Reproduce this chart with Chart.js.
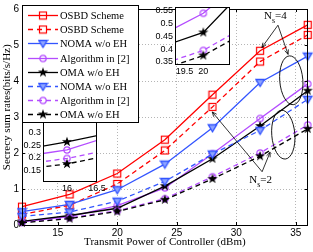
<!DOCTYPE html>
<html><head><meta charset="utf-8">
<script src="https://cdn.jsdelivr.net/npm/chart.js@4.4.0/dist/chart.umd.min.js"></script>
<style>
html,body{margin:0;padding:0;background:#fff;}
#wrap{position:relative;width:313px;height:252px;overflow:hidden;}
canvas{position:absolute;}
</style></head><body>
<div id="wrap">
<canvas id="main" width="313" height="252" style="left:0;top:0"></canvas>
<canvas id="in1" width="90" height="80" style="left:145px;top:0"></canvas>
<canvas id="in2" width="95" height="82" style="left:15px;top:112px"></canvas>
<canvas id="leg" width="313" height="252" style="left:0;top:0;pointer-events:none"></canvas>
</div>
<script>
// ---- data ----
const power = [12, 16, 20, 24, 28, 32, 36];
const osbdSolid  = [0.51, 0.85, 1.43, 2.37, 3.62, 4.84, 5.56];
const osbdDash   = [0.29, 0.55, 1.14, 2.07, 3.28, 4.54, 5.28];
const nomaSolid  = [0.37, 0.57, 0.98, 1.69, 2.70, 3.96, 4.69];
const algSolid   = [0.09, 0.232, 0.54, 1.03, 1.98, 2.96, 3.92];
const omaSolid   = [0.10, 0.264, 0.465, 1.08, 1.84, 2.75, 3.73];
const nomaDash   = [0.24, 0.36, 0.66, 1.21, 1.97, 2.63, 3.49];
const algDash    = [0.07, 0.198, 0.395, 0.73, 1.34, 2.00, 2.78];
const omaDash    = [0.06, 0.176, 0.375, 0.70, 1.28, 1.91, 2.67];
const seriesNames = ['OSBD Scheme','OSBD Scheme','NOMA w/o EH','Algorithm in [2]','OMA w/o EH','NOMA w/o EH','Algorithm in [2]','OMA w/o EH'];
const xTicks = [15, 20, 25, 30, 35];
const yTicks = [0, 1, 2, 3, 4, 5, 6];
const inset1XTicks = [19.5, 20];
const inset1YTicks = [0.35, 0.4, 0.45, 0.5, 0.55];
const inset2XTicks = [16, 16.5];
const inset2YTicks = [0.15, 0.2, 0.25, 0.3];
const yTitle = 'Secrecy sum rates(bits/s/Hz)';
const xTitle = 'Transmit Power of Controller (dBm)';

// ---- markers ----
function mk(size, draw){const c=document.createElement('canvas');c.width=c.height=size;const g=c.getContext('2d');draw(g,size/2);return c;}
const RED='#ff0000', BLUE='#3355ff', PURPLE='#b44cff', BLACK='#000000';
const mSquare = mk(10,(g,c)=>{g.strokeStyle=RED;g.lineWidth=1.2;g.strokeRect(c-3.5,c-3.5,7,7);});
const mTri = mk(11,(g,c)=>{g.beginPath();g.moveTo(c-4.2,c-3);g.lineTo(c+4.2,c-3);g.lineTo(c,c+4);g.closePath();g.fillStyle='#8ea4ff';g.fill();g.strokeStyle=BLUE;g.lineWidth=1.4;g.stroke();});
const mCirc = mk(10,(g,c)=>{g.beginPath();g.arc(c,c,3.2,0,Math.PI*2);g.strokeStyle=PURPLE;g.lineWidth=1.2;g.stroke();});
const mStar = mk(12,(g,c)=>{g.beginPath();for(let i=0;i<10;i++){const r=i%2?2.1:5.3;const a=-Math.PI/2+i*Math.PI/5;g.lineTo(c+r*Math.cos(a),c+r*Math.sin(a));}g.closePath();g.fillStyle=BLACK;g.fill();});

const DASH=[5,3.5];
const styles = [
  {color:RED, dash:[], marker:mSquare},
  {color:RED, dash:DASH, marker:mSquare},
  {color:BLUE, dash:[], marker:mTri},
  {color:PURPLE, dash:[], marker:mCirc},
  {color:BLACK, dash:[], marker:mStar},
  {color:BLUE, dash:DASH, marker:mTri},
  {color:PURPLE, dash:DASH, marker:mCirc},
  {color:BLACK, dash:DASH, marker:mStar}
];
const seriesData = [osbdSolid, osbdDash, nomaSolid, algSolid, omaSolid, nomaDash, algDash, omaDash];

function makeDatasets(idx, clip){
  return idx.map(i=>({
    label: seriesNames[i],
    data: power.map((p,k)=>({x:p, y:seriesData[i][k]})),
    borderColor: styles[i].color,
    backgroundColor: styles[i].color,
    borderWidth: 1.3,
    borderDash: styles[i].dash,
    pointStyle: styles[i].marker,
    pointRadius: 4,
    tension: 0,
    clip: clip
  }));
}

const tickFont = {family:"'Liberation Sans', Arial, sans-serif", size:10};
const smallTickFont = {family:"'Liberation Sans', Arial, sans-serif", size:9};
const titleFont = {family:"'Liberation Serif', 'Times New Roman', serif", size:11};

// annotation geometry in data units
const ellipses = [ {x:34.62, y:4.02, rx:0.97, ry:0.68}, {x:33.95, y:2.51, rx:0.97, ry:0.68} ];
const label4 = {x:33.34, y:5.80, n:'4'};
const label2 = {x:32.10, y:1.26, n:'2'};
const arrows4 = {from:{x:33.5,y:5.55}, to:[{x:32.15,y:4.93},{x:34.35,y:4.74}]};
const arrows2 = {from:{x:32.17,y:1.48}, to:[{x:27.98,y:3.14},{x:32.84,y:2.02}]};

function arrow(ctx, x1,y1,x2,y2){
  ctx.beginPath();ctx.moveTo(x1,y1);ctx.lineTo(x2,y2);ctx.stroke();
  const a=Math.atan2(y2-y1,x2-x1), L=5, w=0.4;
  ctx.beginPath();ctx.moveTo(x2,y2);ctx.lineTo(x2-L*Math.cos(a-w),y2-L*Math.sin(a-w));
  ctx.moveTo(x2,y2);ctx.lineTo(x2-L*Math.cos(a+w),y2-L*Math.sin(a+w));ctx.stroke();
}
function nsLabel(ctx, px, py, n){
  ctx.fillStyle='#000';ctx.textBaseline='middle';ctx.textAlign='left';
  ctx.font="11px 'Liberation Serif', serif";
  const wN=ctx.measureText('N').width;
  const x0=px-12;
  ctx.fillText('N',x0,py);
  ctx.font="8px 'Liberation Serif', serif";
  ctx.fillText('s',x0+wN,py+5);
  ctx.font="11px 'Liberation Serif', serif";
  ctx.fillText('='+n,x0+wN+3,py);
}

const mainPlugin = {
  id:'mainDecor',
  beforeDraw(ch){const c=ch.ctx;c.save();c.fillStyle='#fff';c.fillRect(0,0,ch.width,ch.height);c.restore();},
  afterDraw(ch){
    const c=ch.ctx, a=ch.chartArea;
    c.save();
    c.translate(7, a.top+(a.bottom-a.top)*0.455);
    c.rotate(-Math.PI/2);
    c.fillStyle='#000';c.font="11px 'Liberation Serif', 'Times New Roman', serif";
    c.textAlign='center';c.textBaseline='middle';
    c.fillText(yTitle,0,0);
    c.restore();
  },
  afterDatasetsDraw(ch){
    const c=ch.ctx, a=ch.chartArea, xs=ch.scales.x, ys=ch.scales.y;
    c.save();
    c.strokeStyle='#000';c.lineWidth=1;c.setLineDash([]);
    c.strokeRect(Math.round(a.left)+0.5,Math.round(a.top)+0.5,Math.round(a.right-a.left)-1,Math.round(a.bottom-a.top));
    xTicks.forEach(v=>{const p=Math.round(xs.getPixelForValue(v))+0.5;c.beginPath();c.moveTo(p,a.bottom);c.lineTo(p,a.bottom-3);c.moveTo(p,a.top);c.lineTo(p,a.top+3);c.stroke();});
    yTicks.forEach(v=>{const p=Math.round(ys.getPixelForValue(v))+0.5;c.beginPath();c.moveTo(a.left,p);c.lineTo(a.left+3,p);c.moveTo(a.right,p);c.lineTo(a.right-3,p);c.stroke();});
    c.lineWidth=0.9;
    ellipses.forEach(e=>{const cx=xs.getPixelForValue(e.x), cy=ys.getPixelForValue(e.y);
      const rx=Math.abs(xs.getPixelForValue(e.x+e.rx)-cx), ry=Math.abs(ys.getPixelForValue(e.y+e.ry)-cy);
      c.beginPath();c.ellipse(cx,cy,rx,ry,-0.08,0,Math.PI*2);c.stroke();});
    c.lineWidth=0.8;
    [arrows4,arrows2].forEach(A=>{const fx=xs.getPixelForValue(A.from.x), fy=ys.getPixelForValue(A.from.y);
      A.to.forEach(t=>arrow(c,fx,fy,xs.getPixelForValue(t.x),ys.getPixelForValue(t.y)));});
    [label4,label2].forEach(L=>nsLabel(c,xs.getPixelForValue(L.x),ys.getPixelForValue(L.y),L.n));
    c.restore();
  }
};

new Chart(document.getElementById('main'),{
  type:'line',
  data:{datasets: makeDatasets([7,6,5,4,3,2,1,0], false)},
  options:{
    responsive:false, animation:false, devicePixelRatio:1,
    layout:{padding:{top:5,right:4,left:0,bottom:0}},
    plugins:{legend:{display:false},tooltip:{enabled:false}},
    scales:{
      x:{type:'linear',min:12,max:36,
        afterBuildTicks:s=>{s.ticks=xTicks.map(v=>({value:v}));},
        afterFit:s=>{s.height=27;},
        grid:{color:'#b5b5b5',drawTicks:false},
        border:{display:false,dash:[1,2]},
        ticks:{color:'#000',font:tickFont,padding:2,maxRotation:0,autoSkip:false},
        title:{display:true,text:xTitle,color:'#000',font:titleFont,padding:{top:0,bottom:3}}
      },
      y:{type:'linear',min:0,max:6,
        afterBuildTicks:s=>{s.ticks=yTicks.map(v=>({value:v}));},
        afterFit:s=>{s.width=22;},
        grid:{color:'#b5b5b5',drawTicks:false},
        border:{display:false,dash:[1,2]},
        ticks:{color:'#000',font:tickFont,padding:3},
        title:{display:false}
      }
    }
  },
  plugins:[mainPlugin]
});

function insetPlugin(){
  return {id:'insetDecor',
    beforeDatasetsDraw(ch){const c=ch.ctx,a=ch.chartArea;c.save();c.fillStyle='#fff';c.fillRect(a.left,a.top,a.right-a.left,a.bottom-a.top);c.restore();},
    afterDatasetsDraw(ch){const c=ch.ctx,a=ch.chartArea;c.save();c.strokeStyle='#000';c.lineWidth=1;c.strokeRect(Math.round(a.left)+0.5,Math.round(a.top)+0.5,Math.round(a.right-a.left)-1,Math.round(a.bottom-a.top)-1);c.restore();}
  };
}
function makeInset(id, xmin,xmax,ymin,ymax,xt,yt,pad,yw,xh){
  new Chart(document.getElementById(id),{
    type:'line',
    data:{datasets: makeDatasets([7,6,4,3], true)},
    options:{
      responsive:false, animation:false, devicePixelRatio:1,
      layout:{padding:pad},
      plugins:{legend:{display:false},tooltip:{enabled:false}},
      scales:{
        x:{type:'linear',min:xmin,max:xmax,
          afterBuildTicks:s=>{s.ticks=xt.map(v=>({value:v}));},
          afterFit:s=>{s.height=xh;},
          grid:{display:false,drawTicks:false}, border:{display:false},
          ticks:{color:'#000',font:smallTickFont,padding:1,maxRotation:0,autoSkip:false,callback:v=>String(v)}},
        y:{type:'linear',min:ymin,max:ymax,
          afterBuildTicks:s=>{s.ticks=yt.map(v=>({value:v}));},
          afterFit:s=>{s.width=yw;},
          grid:{display:false,drawTicks:false}, border:{display:false},
          ticks:{color:'#000',font:smallTickFont,padding:2,callback:v=>String(+v.toFixed(2))}}
      }
    },
    plugins:[insetPlugin()]
  });
}
makeInset('in1',19.25,20.7,0.338,0.563,inset1XTicks,inset1YTicks,{top:7,right:5,left:0,bottom:0},30,15);
makeInset('in2',15.6,16.5,0.104,0.354,inset2XTicks,inset2YTicks,{top:6,right:13,left:0,bottom:0},28,12);

// ---- legend (drawn on top) ----
(function(){
  const c=document.getElementById('leg').getContext('2d');
  c.fillStyle='#fff';c.fillRect(22,5,116,117);
  c.strokeStyle='#000';c.lineWidth=1;c.strokeRect(22.5,5.5,116,117);
  const row0=15, dy=14.2;
  seriesNames.forEach((name,i)=>{
    const y=Math.round(row0+i*dy)+0.5, s=styles[i];
    c.save();c.strokeStyle=s.color;c.lineWidth=1.3;c.setLineDash(s.dash.length?[5,4]:[]);
    c.beginPath();c.moveTo(28,y);c.lineTo(58,y);c.stroke();c.restore();
    c.drawImage(s.marker,43-s.marker.width/2,y-s.marker.height/2);
    c.fillStyle='#000';c.font="10.5px 'Liberation Serif', 'Times New Roman', serif";c.textBaseline='middle';c.textAlign='left';
    c.fillText(name,60,y+0.5);
  });
})();
</script>
</body></html>
